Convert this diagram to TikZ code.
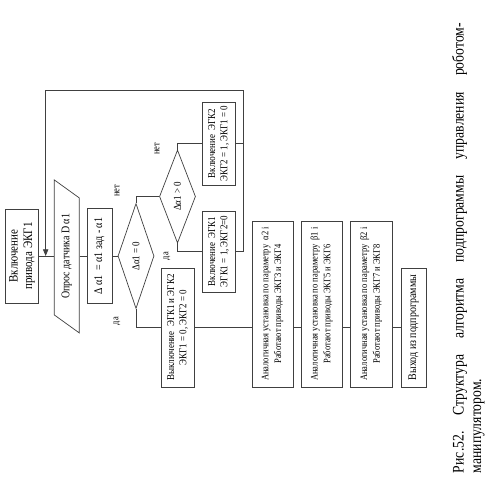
\documentclass[tikz,border=0pt]{standalone}
\usepackage{fontspec}
\setmainfont{Liberation Serif}[FakeStretch=0.85]
\usepackage{tikz}
\usetikzlibrary{shapes.geometric, arrows.meta}
\colorlet{linegray}{black!75}

\begin{document}
\begin{tikzpicture}[
    block/.style={draw=linegray, line width=0.6pt, rectangle, fill=white, inner sep=1pt, align=center, font=\fontsize{9}{10.5}\selectfont, minimum height=0.99cm},
    anablock/.style={block, font=\fontsize{8.5}{11}\selectfont, minimum width=4.98cm, minimum height=1.23cm},
    decision/.style={draw=linegray, line width=0.6pt, diamond, fill=white, inner sep=0pt, font=\fontsize{9}{10}\selectfont},
    iobox/.style={draw=linegray, line width=0.6pt, trapezium, trapezium left angle=35, trapezium right angle=145, trapezium stretches body, fill=white, inner sep=1pt, font=\fontsize{10}{12}\selectfont},
    edge/.style={draw=linegray, line width=0.6pt},
    varlabel/.style={font=\fontsize{8.5}{10}\selectfont},
    figcaption/.style={font=\fontsize{13.75}{15}\selectfont, text width=13.5cm, align=left, inner sep=0pt}
]
\useasboundingbox (0,0) rectangle (14.7,-15.12);

% Ablaufplan wird aufrecht gezeichnet und als Ganzes gedreht
\begin{scope}[shift={(0,-15.12)}, rotate=90, transform shape]

% --- KNOTEN ---
% Hauptzweig
\node[block, minimum width=2.82cm, font=\fontsize{11}{12.5}\selectfont] (drive) at (7.44,-0.66) {Включение\\привода ЭКГ1};
\node[iobox, minimum width=4.59cm, minimum height=0.75cm] (poll) at (7.43,-2.0) {Опрос датчика D α1};
\node[block, minimum width=2.85cm, minimum height=0.75cm, font=\fontsize{10}{12}\selectfont] (delta) at (7.44,-2.985) {Δ α1 \,= α1 зад - α1};
\node[decision, minimum width=3.15cm, minimum height=0.96cm] (zero) at (7.44,-4.08) {Δα1 = 0};

% Verzweigung nach dem Vorzeichen
\node[decision, minimum width=2.79cm, minimum height=0.93cm] (sign) at (9.225,-5.325) {Δα1 > 0};
\node[block, minimum width=2.49cm] (on2) at (10.815,-6.555) {Включение \ ЭГК2\\ЭКГ2 = 1, ЭКГ1 = 0};
\node[block, minimum width=2.43cm] (on1) at (7.575,-6.555) {Включение \ ЭГК1\\ЭГК1 = 1, ЭКГ2=0};

% Zweig "да" und weitere Achsen
\node[block, minimum width=3.57cm] (off) at (5.295,-5.325) {Выключение \ ЭГК1 и ЭГК2\\ЭКГ1 = 0, ЭКГ2 = 0};
\node[anablock] (alpha2) at (6.0,-8.175) {Аналогичная установка по параметру \ α2 i\\Работают приводы ЭКГ3 и ЭКГ4};
\node[anablock] (beta1) at (6.0,-9.645) {Аналогичная установка по параметру \ β1 i\\Работают приводы ЭКГ5 и ЭКГ6};
\node[anablock, minimum height=1.26cm] (beta2) at (6.0,-11.13) {Аналогичная установка по параметру \ β2 i\\Работают приводы ЭКГ7 и ЭКГ8};
\node[block, minimum width=3.57cm, minimum height=0.75cm, font=\fontsize{10}{12}\selectfont] (exit) at (5.295,-12.405) {Выход из подпрограммы};

% Beschriftungen der Zweige
\node[varlabel] (no1) at (9.39,-3.51) {нет};
\node[varlabel] (no2) at (10.65,-4.71) {нет};
\node[varlabel] (yes2) at (7.44,-5.01) {да};
\node[varlabel] (yes1) at (5.49,-3.51) {да};

% Eckpunkte der Rueckfuehrung
\coordinate (loopR) at (12.42,-7.29);
\coordinate (loopL) at (12.42,-1.37);

% --- KANTEN ---
\draw[edge] (drive.south) -- (drive.south |- poll.north);
\draw[edge] (delta.north |- poll.south) -- (delta.north);
\draw[edge] (delta) -- (zero);
\draw[edge] (zero.east) -| (sign.north);
\draw[edge] (sign.east) -| (on2.north);
\draw[edge] (sign.west) -| (on1.north);
\draw[edge] (zero.west) -| (off.north);
\foreach \from/\to in {off/alpha2, alpha2/beta1, beta1/beta2, beta2/exit}
    \draw[edge] (\from.south -| exit) -- (\to.north -| exit);

% Rueckfuehrung zum Opros
\draw[edge] (on2.south) -- (on2.south |- loopR);
\draw[edge, -{Triangle[length=2mm, width=1.6mm]}] (on1.south) |- (loopR) -- (loopL) -- (loopL -| drive);

% Bildunterschrift
\node[figcaption] (cap) at (7.68,-14.05) {\makebox[13.5cm][l]{Рис.52.\hfill Структура\hfill алгоритма\hfill подпрограммы\hfill управления\hfill роботом-}\\манипулятором.};

\end{scope}
\end{tikzpicture}
\end{document}
